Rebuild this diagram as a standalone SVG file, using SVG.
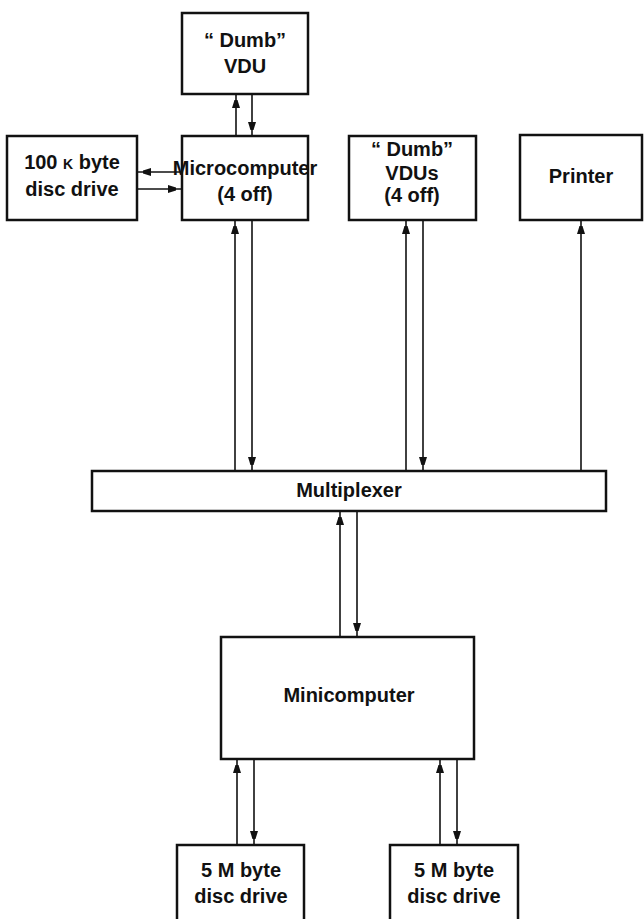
<svg xmlns="http://www.w3.org/2000/svg" width="644" height="919" viewBox="0 0 644 919">
<style>
.box{fill:#fff;stroke:#111;stroke-width:2.5}
.t{font-family:"Liberation Sans",Arial,sans-serif;font-weight:bold;font-size:20px;fill:#111;text-anchor:middle}
.c{fill:none;stroke:#111;stroke-width:1.6;marker-end:url(#ah)}
</style>
<defs>
<marker id="ah" markerUnits="userSpaceOnUse" markerWidth="8" markerHeight="14" viewBox="0 0 8 14" refX="13" refY="4" orient="auto">
<path d="M0,0 L13,4 L0,8 Z" fill="#111"/>
</marker>
</defs>
<rect width="644" height="919" fill="#fff"/>
<g id="connectors">
<path class="c" d="M236,136 L236,95"/>
<path class="c" d="M252,94 L252,135"/>
<path class="c" d="M182,172 L138,172"/>
<path class="c" d="M137,189 L181,189"/>
<path class="c" d="M235,471 L235,221"/>
<path class="c" d="M252,220 L252,470"/>
<path class="c" d="M406,471 L406,221"/>
<path class="c" d="M423,220 L423,470"/>
<path class="c" d="M581,471 L581,221"/>
<path class="c" d="M340,637 L340,512"/>
<path class="c" d="M357,511 L357,636"/>
<path class="c" d="M237,845 L237,760"/>
<path class="c" d="M254,759 L254,844"/>
<path class="c" d="M440,845 L440,760"/>
<path class="c" d="M457,759 L457,844"/>
</g>
<g id="dumb-vdu">
<rect class="box" x="182" y="13" width="126" height="81"/>
<text class="t" x="245" y="47">“ Dumb”</text>
<text class="t" x="245" y="73">VDU</text>
</g>
<g id="disc-100k">
<rect class="box" x="7" y="136" width="130" height="84"/>
<text class="t" x="72" y="169">100 <tspan font-size="14">K</tspan> byte</text>
<text class="t" x="72" y="196">disc drive</text>
</g>
<g id="microcomputer">
<rect class="box" x="182" y="136" width="126" height="84"/>
<text class="t" x="245" y="175">Microcomputer</text>
<text class="t" x="245" y="201">(4 off)</text>
</g>
<g id="dumb-vdus">
<rect class="box" x="349" y="136" width="127" height="84"/>
<text class="t" x="412" y="156">“ Dumb”</text>
<text class="t" x="412" y="180">VDUs</text>
<text class="t" x="412" y="202">(4 off)</text>
</g>
<g id="printer">
<rect class="box" x="520" y="135" width="122" height="85"/>
<text class="t" x="581" y="183">Printer</text>
</g>
<g id="multiplexer">
<rect class="box" x="92" y="471" width="514" height="40"/>
<text class="t" x="349" y="497">Multiplexer</text>
</g>
<g id="minicomputer">
<rect class="box" x="221" y="637" width="253" height="122"/>
<text class="t" x="349" y="702">Minicomputer</text>
</g>
<g id="disc-5m-a">
<rect class="box" x="177" y="845" width="127" height="85"/>
<text class="t" x="241" y="877">5 M byte</text>
<text class="t" x="241" y="903">disc drive</text>
</g>
<g id="disc-5m-b">
<rect class="box" x="390" y="845" width="128" height="85"/>
<text class="t" x="454" y="877">5 M byte</text>
<text class="t" x="454" y="903">disc drive</text>
</g>
</svg>
